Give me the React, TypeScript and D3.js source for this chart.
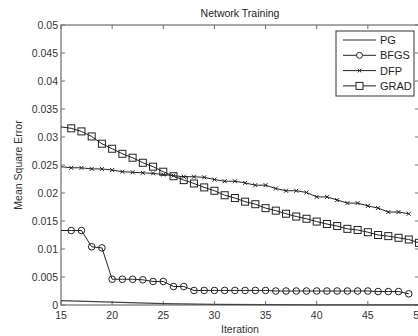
import React, { useEffect, useRef } from 'react'
import * as d3 from 'd3'

// values
const gradIter = d3.range(15, 51)
const gradMse = [0.0318, 0.03155, 0.031, 0.0301, 0.0288, 0.0279, 0.027, 0.0263, 0.0254, 0.0247,
  0.0238, 0.023, 0.0223, 0.0217, 0.021, 0.0204, 0.0196, 0.0191, 0.01845, 0.018, 0.0173, 0.01685,
  0.0163, 0.0158, 0.0154, 0.0149, 0.01446, 0.0141, 0.0136, 0.0134, 0.013, 0.0125, 0.0123, 0.012,
  0.0117, 0.0111]

const dfpIter = d3.range(15, 50)
const dfpMse = [0.0247, 0.0245, 0.0245, 0.0243, 0.0243, 0.0241, 0.0238, 0.0237, 0.0236, 0.0235,
  0.0233, 0.0231, 0.0229, 0.0229, 0.0228, 0.0224, 0.0221, 0.0221, 0.0218, 0.0214, 0.0214, 0.0208,
  0.0204, 0.0204, 0.0201, 0.0193, 0.0193, 0.01875, 0.0182, 0.0182, 0.0177, 0.0173, 0.0166, 0.0166,
  0.0163]

const bfgsIter = d3.range(15, 50)
const bfgsMse = [0.0133, 0.0133, 0.0133, 0.0104, 0.0102, 0.0046, 0.0046, 0.0046, 0.0045, 0.0042,
  0.0042, 0.0033, 0.0033, 0.0026, 0.0026, 0.0026, 0.0026, 0.0026, 0.0026, 0.0026, 0.0026, 0.0025,
  0.0025, 0.0025, 0.0025, 0.0025, 0.0025, 0.0025, 0.0025, 0.0025, 0.0025, 0.0024, 0.0024, 0.0024,
  0.002]

const pgIter = [15, 20, 25, 30, 35, 40, 45, 50]
const pgMse = [0.00077, 0.0005, 0.00023, 0.0001, 0.00005, 0.00004, 0.00003, 0.00003]

const xTicks = [15, 20, 25, 30, 35, 40, 45, 50]
const yTicks = [0, 0.005, 0.01, 0.015, 0.02, 0.025, 0.03, 0.035, 0.04, 0.045, 0.05]
const legendNames = ['PG', 'BFGS', 'DFP', 'GRAD']

const W = 418, H = 336
const left = 61, right = 419, top = 25, bottom = 305
const font = '"Liberation Sans", Arial, sans-serif'

export default function App() {
  const ref = useRef<SVGSVGElement>(null)

  useEffect(() => {
    const svg = d3.select(ref.current)
    svg.selectAll('*').remove()

    const x = d3.scaleLinear().domain([15, 50]).range([left, right])
    const y = d3.scaleLinear().domain([0, 0.05]).range([bottom, top])

    svg.append('rect').attr('width', W).attr('height', H).attr('fill', '#fff')

    svg.append('defs').append('clipPath').attr('id', 'plotClip')
      .append('rect').attr('x', left).attr('y', top - 5)
      .attr('width', right - left + 5).attr('height', bottom - top + 10)

    // axes box + ticks
    const axisCol = '#6e6e6e'
    svg.append('rect').attr('x', left).attr('y', top)
      .attr('width', right - left).attr('height', bottom - top)
      .attr('fill', 'none').attr('stroke', axisCol).attr('stroke-width', 1.2)

    xTicks.forEach(t => {
      svg.append('line').attr('x1', x(t)).attr('x2', x(t)).attr('y1', bottom).attr('y2', bottom - 4)
        .attr('stroke', axisCol)
      svg.append('line').attr('x1', x(t)).attr('x2', x(t)).attr('y1', top).attr('y2', top + 4)
        .attr('stroke', axisCol)
      svg.append('text').attr('x', x(t)).attr('y', bottom + 14)
        .attr('text-anchor', 'middle').attr('font-size', 10.5).attr('font-family', font)
        .attr('fill', '#333').text(t)
    })
    yTicks.forEach(t => {
      svg.append('line').attr('x1', left).attr('x2', left + 4).attr('y1', y(t)).attr('y2', y(t))
        .attr('stroke', axisCol)
      svg.append('line').attr('x1', right).attr('x2', right - 4).attr('y1', y(t)).attr('y2', y(t))
        .attr('stroke', axisCol)
      svg.append('text').attr('x', left - 3).attr('y', y(t) + 3.5)
        .attr('text-anchor', 'end').attr('font-size', 10.5).attr('font-family', font)
        .attr('fill', '#333').text(t === 0 ? '0' : String(t))
    })

    const plot = svg.append('g').attr('clip-path', 'url(#plotClip)')
    const line = d3.line<[number, number]>().x(d => x(d[0])).y(d => y(d[1]))

    const pts = (it: number[], v: number[]) => it.map((k, i) => [k, v[i]] as [number, number])

    // PG
    plot.append('path').attr('d', line(pts(pgIter, pgMse)) as string)
      .attr('fill', 'none').attr('stroke', '#444').attr('stroke-width', 1.2)

    // BFGS
    const bfgs = pts(bfgsIter, bfgsMse)
    plot.append('path').attr('d', line(bfgs) as string)
      .attr('fill', 'none').attr('stroke', '#222').attr('stroke-width', 1)
    plot.selectAll('circle.bfgs').data(bfgs.slice(1)).enter().append('circle')
      .attr('cx', d => x(d[0])).attr('cy', d => y(d[1])).attr('r', 3.3)
      .attr('fill', 'none').attr('stroke', '#222').attr('stroke-width', 1)

    // DFP
    const dfp = pts(dfpIter, dfpMse)
    plot.append('path').attr('d', line(dfp) as string)
      .attr('fill', 'none').attr('stroke', '#222').attr('stroke-width', 1)
    const cross = (g: d3.Selection<SVGGElement, unknown, null, undefined>, cx: number, cy: number, s: number) => {
      g.append('path').attr('d', `M${cx - s},${cy - s}L${cx + s},${cy + s}M${cx - s},${cy + s}L${cx + s},${cy - s}`)
        .attr('stroke', '#222').attr('stroke-width', 1).attr('fill', 'none')
    }
    dfp.slice(1).forEach(d => cross(plot as any, x(d[0]), y(d[1]), 2))

    // GRAD
    const grad = pts(gradIter, gradMse)
    plot.append('path').attr('d', line(grad) as string)
      .attr('fill', 'none').attr('stroke', '#222').attr('stroke-width', 1)
    plot.selectAll('rect.grad').data(grad.slice(1)).enter().append('rect')
      .attr('x', d => x(d[0]) - 3.5).attr('y', d => y(d[1]) - 3.5)
      .attr('width', 7).attr('height', 7)
      .attr('fill', 'none').attr('stroke', '#222').attr('stroke-width', 1)

    // legend
    const lg = svg.append('g')
    lg.append('rect').attr('x', 336).attr('y', 31).attr('width', 78).attr('height', 65)
      .attr('fill', '#fff').attr('stroke', '#333').attr('stroke-width', 1)
    legendNames.forEach((name, i) => {
      const ly = 40 + i * 15.3
      lg.append('line').attr('x1', 343).attr('x2', 376).attr('y1', ly).attr('y2', ly)
        .attr('stroke', '#222').attr('stroke-width', 1)
      if (name === 'BFGS') {
        lg.append('circle').attr('cx', 359.5).attr('cy', ly).attr('r', 3)
          .attr('fill', '#fff').attr('stroke', '#222')
      } else if (name === 'DFP') {
        cross(lg as any, 359.5, ly, 1.8)
      } else if (name === 'GRAD') {
        lg.append('rect').attr('x', 356).attr('y', ly - 3.5).attr('width', 7).attr('height', 7)
          .attr('fill', '#fff').attr('stroke', '#222')
      }
      lg.append('text').attr('x', 380).attr('y', ly + 4).attr('font-size', 11)
        .attr('font-family', font).attr('fill', '#222').text(name)
    })

    // title + axis labels
    svg.append('text').attr('x', (left + right) / 2).attr('y', 17)
      .attr('text-anchor', 'middle').attr('font-size', 10.5).attr('font-family', font)
      .attr('fill', '#222').text('Network Training')
    svg.append('text').attr('x', (left + right) / 2).attr('y', 333)
      .attr('text-anchor', 'middle').attr('font-size', 10.5).attr('font-family', font)
      .attr('fill', '#333').text('Iteration')
    svg.append('text').attr('transform', `translate(22,${(top + bottom) / 2}) rotate(-90)`)
      .attr('text-anchor', 'middle').attr('font-size', 10.5).attr('font-family', font)
      .attr('fill', '#333').text('Mean Square Error')
  }, [])

  return <svg ref={ref} width={W} height={H} style={{ position: 'absolute', left: 0, top: 0 }} />
}
